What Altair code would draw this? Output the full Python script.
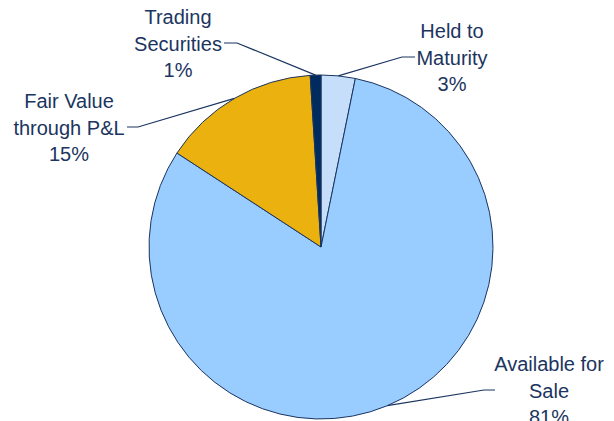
import math
import altair as alt
import pandas as pd

categories = ["Held to\nMaturity", "Available for\nSale", "Fair Value\nthrough P&L", "Trading\nSecurities"]
values = [3.2, 81.0, 14.8, 1.0]
pct_labels = ["3%", "81%", "15%", "1%"]
colors = ["#C6DEFA", "#99CCFF", "#EAB10F", "#002B5E"]

# layout (pixels inside the plot area)
W, H = 598, 430
CX, CY, R = 313, 239, 172
label_xy = [(444, 24), (541, 357), (61, 94), (170, 10)]
elbow = [(394, 49), (476, 382), (130, 119), (229, 35)]
elbow_end = [(407, 49), (487, 382), (119, 119), (216, 35)]

df = pd.DataFrame({"cat": categories, "val": values, "idx": range(4),
                   "label": [c + "\n" + p for c, p in zip(categories, pct_labels)]})

# leader lines start at slice mid-angle on the rim
total = sum(values)
rows = []
cum = 0
for i, v in enumerate(values):
    mid = (cum + v / 2) / total * 2 * math.pi
    cum += v
    sx = CX + R * math.sin(mid)
    sy = CY - R * math.cos(mid)
    pts = [(sx, sy), elbow[i], elbow_end[i]]
    for k, (px, py) in enumerate(pts):
        rows.append({"g": i, "k": k, "x": px, "y": py})
lines = pd.DataFrame(rows)

lab = df.copy()
lab["x"] = [p[0] for p in label_xy]
lab["y"] = [p[1] for p in label_xy]

pie = alt.Chart(df).mark_arc(outerRadius=R, stroke="#1B3560", strokeWidth=1).encode(
    theta=alt.Theta("val:Q", stack=True),
    order=alt.Order("idx:Q"),
    color=alt.Color("cat:N", scale=alt.Scale(domain=categories, range=colors), legend=None),
    x=alt.value(CX), y=alt.value(CY),
)

leader = alt.Chart(lines).mark_line(color="#1B3560", strokeWidth=1.2).encode(
    x=alt.X("x:Q", scale=None), y=alt.Y("y:Q", scale=None),
    detail="g:N", order="k:Q",
)

text = alt.Chart(lab).mark_text(
    font="Liberation Sans", fontSize=20, color="#1B3560", lineBreak="\n",
    lineHeight=26.5, align="center", baseline="middle",
).encode(x=alt.X("x:Q", scale=None), y=alt.Y("y:Q", scale=None), text="label:N")

chart = alt.layer(pie, leader, text).properties(
    width=W, height=H, autosize=alt.AutoSizeParams(type="none"), padding=0,
    background="white",
).configure_view(stroke=None)

chart.save("out.html", embed_options={"renderer": "svg", "actions": False})
